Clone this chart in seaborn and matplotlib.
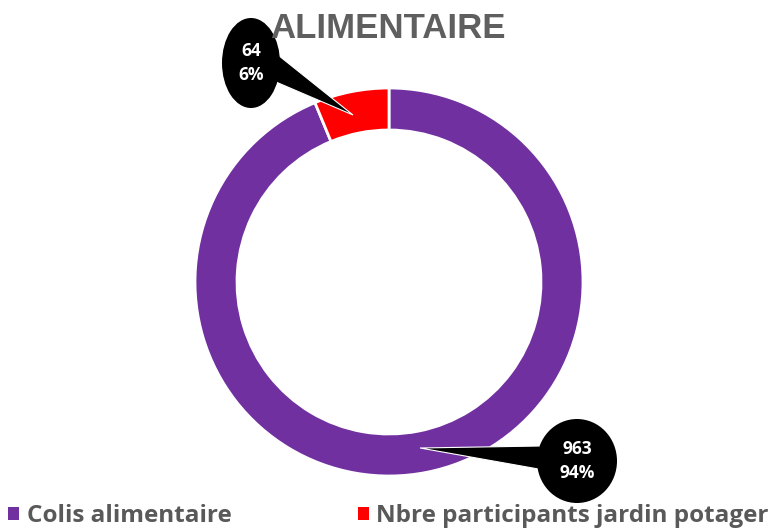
import matplotlib
matplotlib.use("Agg")
import matplotlib.pyplot as plt
import seaborn as sns
from matplotlib.patches import Ellipse, Polygon, Patch

sns.set_theme(style="white")
plt.rcParams["font.family"] = ["Open Sans", "DejaVu Sans"]

# données
categories = ["Colis alimentaire", "Nbre participants jardin potager"]
values = [963, 64]
colors = ["#7030A0", "#FF0000"]
title = "ALIMENTAIRE"

total = sum(values)
pcts = [round(100 * v / total) for v in values]

fig = plt.figure(figsize=(7.77, 5.31), dpi=100)
ax = fig.add_axes([0, 0, 1, 1])

cx, cy, r = 389, 531 - 282, 194
ax.pie(values, colors=colors, startangle=90, counterclock=False,
       center=(cx, cy), radius=r,
       wedgeprops=dict(width=42, edgecolor="white", linewidth=2))
ax.set_xlim(0, 777)
ax.set_ylim(0, 531)
ax.set_aspect("equal")
ax.axis("off")

# bulles d'étiquettes (une par catégorie)
bubbles = [
    dict(c=(577, 531 - 461), w=80, h=84, base=[(540, 531 - 446), (544, 531 - 470)], tip=(420, 531 - 448)),
    dict(c=(251, 531 - 63), w=58, h=90, base=[(278, 531 - 55), (276, 531 - 82)], tip=(353, 531 - 115)),
]
for b, v, p in zip(bubbles, values, pcts):
    ax.add_patch(Polygon([b["base"][0], b["tip"], b["base"][1]], closed=True,
                         facecolor="black", edgecolor="white", linewidth=0.8, zorder=3))
    ax.add_patch(Ellipse(b["c"], b["w"], b["h"], facecolor="black", edgecolor="none", zorder=4))
    ax.text(b["c"][0], b["c"][1], f"{v}\n{p}%", color="white", fontsize=12.5,
            fontweight="bold", ha="center", va="center", linespacing=1.5, zorder=5)

ax.text(388, 531 - 28, title, ha="center", va="center", fontsize=25,
        fontweight="bold", color="#5f5f5f", family="Liberation Sans", zorder=6)

handles = [Patch(facecolor=c, edgecolor="none") for c in colors]
leg = fig.legend(handles, categories, loc="lower center", bbox_to_anchor=(0.5, -0.035),
                 ncol=2, frameon=False, handlelength=0.45, handleheight=0.45,
                 handletextpad=0.3, columnspacing=5.2,
                 prop=dict(family="Open Sans", weight="bold", size=17.5))
for t in leg.get_texts():
    t.set_color("#595959")

fig.savefig("out.png", dpi=100)
